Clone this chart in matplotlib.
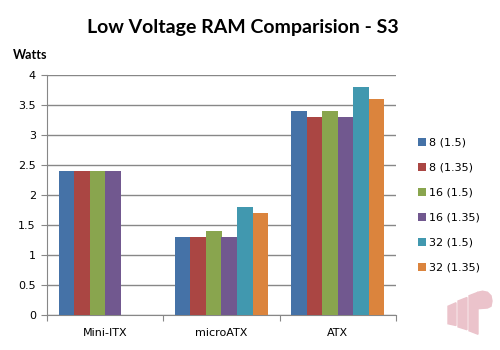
import matplotlib
matplotlib.use("Agg")
import matplotlib.pyplot as plt
import numpy as np
from matplotlib.patches import Polygon, Wedge

categories = ["Mini-ITX", "microATX", "ATX"]
series_names = ["8 (1.5)", "8 (1.35)", "16 (1.5)", "16 (1.35)", "32 (1.5)", "32 (1.35)"]
values = [
    [2.4, 1.3, 3.4],
    [2.4, 1.3, 3.3],
    [2.4, 1.4, 3.4],
    [2.4, 1.3, 3.3],
    [np.nan, 1.8, 3.8],
    [np.nan, 1.7, 3.6],
]
colors = ["#4572A7", "#AA4643", "#89A54E", "#71588F", "#4198AF", "#DB843D"]
yticks = [0, 0.5, 1, 1.5, 2, 2.5, 3, 3.5, 4]
ytick_labels = ["0", "0.5", "1", "1.5", "2", "2.5", "3", "3.5", "4"]

fig = plt.figure(figsize=(5, 3.5), dpi=100)
ax = fig.add_axes([0.094, 0.1, 0.698, 0.6857])

n = len(series_names)
gap = 1.5
bw = 1.0 / (n + gap)
x = np.arange(len(categories))
for i, (name, vals, c) in enumerate(zip(series_names, values, colors)):
    offs = -0.5 + gap * bw / 2 + (i + 0.5) * bw
    ax.bar(x + offs, vals, width=bw, color=c, label=name, zorder=3)

ax.set_xlim(-0.5, len(categories) - 0.5)
ax.set_ylim(0, 4)
ax.set_yticks(yticks)
ax.set_yticklabels(ytick_labels)
ax.yaxis.grid(True, color="#878787", linewidth=1.0, zorder=0)
for s in ["top", "right"]:
    ax.spines[s].set_visible(False)
for s in ["left", "bottom"]:
    ax.spines[s].set_color("#878787")
ax.set_xticks(np.arange(-0.5, len(categories)), minor=False)
ax.set_xticklabels([])
ax.set_xticks(x, minor=True)
ax.set_xticklabels(categories, minor=True, fontsize=8, family="DejaVu Sans")
ax.tick_params(axis="x", which="major", length=4, color="#878787")
ax.tick_params(axis="x", which="minor", length=0, pad=9)
ax.tick_params(axis="y", length=4, color="#878787", labelsize=8, pad=4)

fig.text(0.486, 0.92, "Low Voltage RAM Comparision - S3", ha="center", va="center",
         fontsize=14, fontweight="bold", family="Lato")
fig.text(0.026, 0.843, "Watts", ha="left", va="center", fontsize=9,
         fontweight="bold", family="Lato")

leg = ax.legend(loc="center left", bbox_to_anchor=(1.035, 0.457), frameon=False,
                fontsize=8, handlelength=0.7, handleheight=0.7, handletextpad=0.3,
                labelspacing=1.35)

# watermark
wm_color = "#EBC3CB"
wm = [
    [(0.896, 0.075), (0.912, 0.07), (0.912, 0.135), (0.896, 0.125)],
    [(0.916, 0.066), (0.934, 0.058), (0.934, 0.15), (0.916, 0.14)],
    [(0.938, 0.055), (0.956, 0.045), (0.956, 0.165), (0.938, 0.155)],
]
for p in wm:
    fig.patches.append(Polygon(p, closed=True, transform=fig.transFigure,
                               color=wm_color))
# bowl of the "P"
fig.patches.append(Polygon([(0.956, 0.165), (0.965, 0.168), (0.975, 0.165), (0.982, 0.155),
                            (0.984, 0.14), (0.982, 0.125), (0.975, 0.12), (0.956, 0.118)],
                           closed=True, transform=fig.transFigure, color=wm_color))

fig.savefig("out.png", dpi=100)
